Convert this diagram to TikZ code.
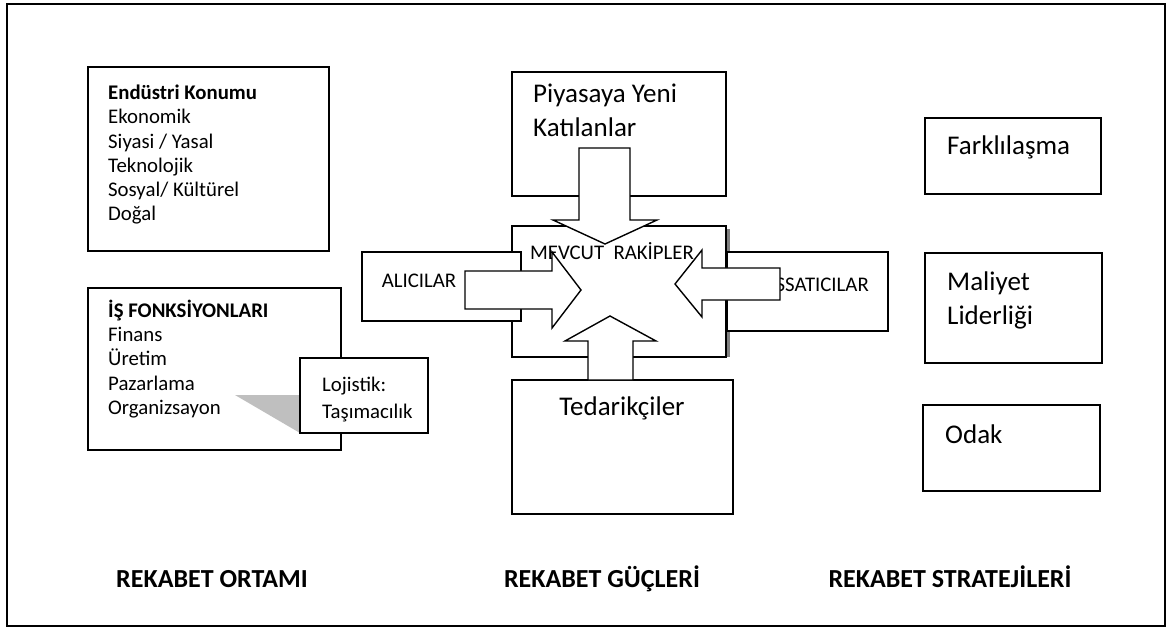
\documentclass[tikz,border=0pt]{standalone}
\usepackage{fontspec}
\setmainfont{Carlito}
\usetikzlibrary{calc}

\tikzset{
  box/.style={draw=black, line width=1.4pt, fill=white, inner sep=0pt, outer sep=0pt, anchor=north west},
  txt/.style={inner sep=0pt, align=left, font=\fontsize{20.8}{24.2}\selectfont},
  bigtxt/.style={inner sep=0pt, align=left, font=\fontsize{27}{34}\selectfont},
  blokok/.style={draw=black, line width=1.4pt, fill=white, line join=miter},
  baslik/.style={inner sep=0pt, anchor=base, font=\fontsize{26}{28}\selectfont\bfseries},
}

\begin{document}
\begin{tikzpicture}[x=1pt,y=-1pt]
  \useasboundingbox (0,0) rectangle (1173,631);
  \draw[line width=1.5pt] (7,4) rectangle (1165,626);

  % rekabet ortami
  \node[box, minimum width=241pt, minimum height=184pt] (endustri) at (88,67) {};
  \node[txt, anchor=north west] (endustrimetin) at (108,85)
    {\textbf{Endüstri Konumu}\\Ekonomik\\Siyasi / Yasal\\Teknolojik\\Sosyal/ Kültürel\\Doğal};
  \node[box, minimum width=253pt, minimum height=162pt] (isf) at (88,288) {};
  \node[txt, anchor=north west] (isfmetin) at (108,300)
    {\textbf{İŞ FONKSİYONLARI}\\Finans\\Üretim\\Pazarlama\\Organizsayon};
  \fill[gray!50] (235,395) -- (300,395) -- (300,433) -- cycle;
  \node[box, minimum width=128pt, minimum height=75pt] (lojistik) at (300,358) {};
  \node[txt, anchor=north west, font=\fontsize{20.8}{27}\selectfont] (lojistikmetin) at (322,377)
    {Lojistik:\\Taşımacılık};

  % rekabet gucleri
  \node[box, minimum width=214pt, minimum height=124pt] (piyasa) at (512,72) {};
  \node[bigtxt, anchor=north west] (piyasametin) at (533,84) {Piyasaya Yeni\\Katılanlar};
  \node[box, minimum width=221pt, minimum height=134pt] (tedarik) at (512,380) {};
  \node[bigtxt, anchor=base] (tedarikmetin) at (622,415) {Tedarikçiler};
  \fill[gray] (726,229) rectangle (730,357);
  \node[box, minimum width=214pt, minimum height=131pt] (mevcut) at (512,226) {};
  \node[txt] (mevcutmetin) at (612,251) {MEVCUT\ \ RAKİPLER};
  \node[box, minimum width=159pt, minimum height=69pt] (alici) at (362,252) {};
  \node[txt] (alicimetin) at (419,281) {ALICILAR};
  \node[box, minimum width=161pt, minimum height=79pt] (satici) at (727,252) {};
  \node[txt, anchor=base east] (saticimetin) at (869,291) {SSATICILAR};

  \draw[blokok] (579,148) -- (630,148) -- (630,220) -- (657,220) -- (605,244)
    -- (553,220) -- (579,220) -- cycle;
  \draw[blokok] (465,271) -- (552,271) -- (552,252) -- (581,290) -- (552,328)
    -- (552,309) -- (465,309) -- cycle;
  \draw[blokok] (780,268) -- (702,268) -- (702,250) -- (675,284) -- (702,317)
    -- (702,300) -- (780,300) -- cycle;
  \draw[blokok] (588,380) -- (588,341) -- (565,341) -- (610,316) -- (656,341)
    -- (633,341) -- (633,380) -- cycle;

  % rekabet stratejileri
  \node[box, minimum width=176pt, minimum height=76pt] (fark) at (925,118) {};
  \node[bigtxt, anchor=base west] (farkmetin) at (947,155) {Farklılaşma};
  \node[box, minimum width=177pt, minimum height=110pt] (maliyet) at (925,253) {};
  \node[bigtxt, anchor=north west] (maliyetmetin) at (947,272) {Maliyet\\Liderliği};
  \node[box, minimum width=177pt, minimum height=86pt] (odak) at (923,405) {};
  \node[bigtxt, anchor=base west] (odakmetin) at (945,443) {Odak};

  % alt basliklar
  \node[baslik] (ortam) at (212,587) {REKABET ORTAMI};
  \node[baslik] (gucler) at (602,587) {REKABET GÜÇLERİ};
  \node[baslik] (strateji) at (950,587) {REKABET STRATEJİLERİ};
\end{tikzpicture}
\end{document}
